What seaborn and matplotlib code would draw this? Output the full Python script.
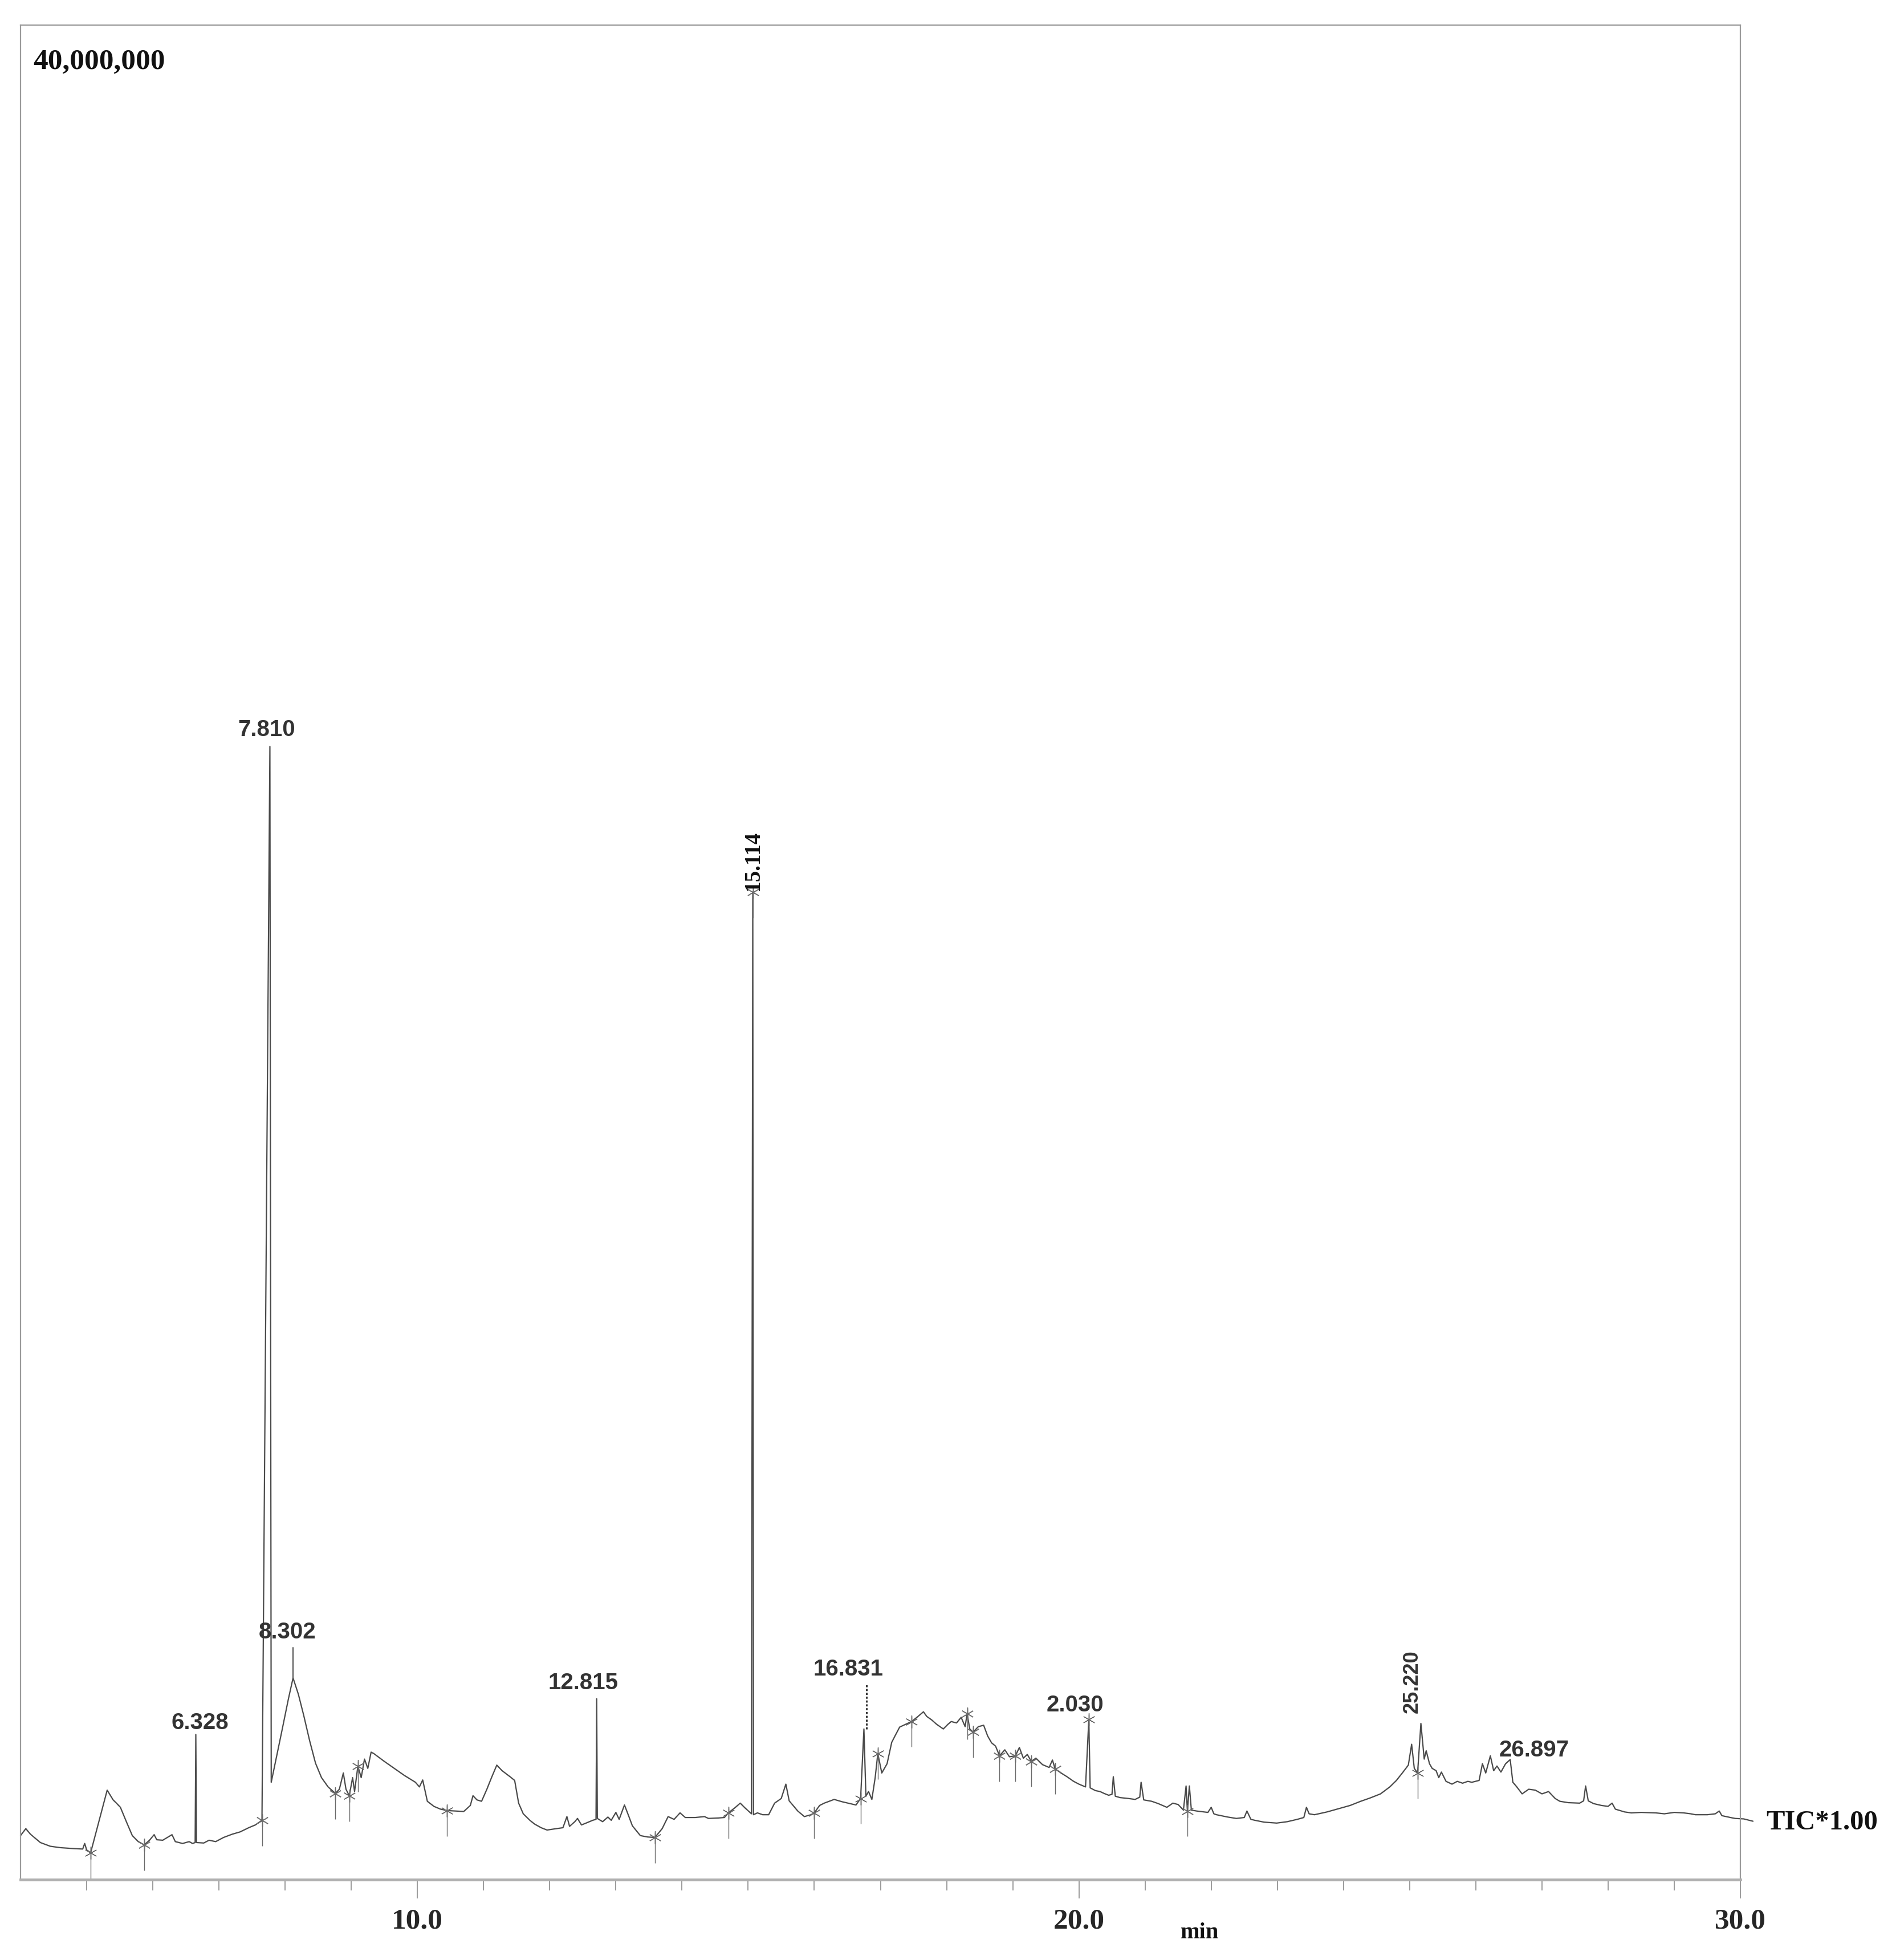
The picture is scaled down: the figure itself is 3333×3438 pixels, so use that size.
import numpy as np
import pandas as pd
import matplotlib
matplotlib.use("Agg")
import matplotlib.pyplot as plt
import seaborn as sns

# retention time (min) and TIC intensity (millions of counts)
rt_min = [4.00, 4.08, 4.15, 4.30, 4.45, 4.60, 4.80, 4.94, 4.97, 5.00, 5.06, 5.31, 5.40, 5.45, 5.51, 5.60,
          5.69, 5.78, 5.87, 5.95, 6.02, 6.06, 6.15, 6.29, 6.34, 6.45, 6.55, 6.60, 6.64, 6.65, 6.66, 6.77,
          6.85, 6.95, 7.07, 7.20, 7.32, 7.45, 7.55, 7.65, 7.77, 7.79, 7.95, 8.05, 8.12, 8.20, 8.28, 8.37,
          8.46, 8.55, 8.65, 8.76, 8.82, 8.88, 8.92, 8.97, 9.02, 9.05, 9.10, 9.15, 9.20, 9.25, 9.30, 9.34,
          9.50, 9.65, 9.80, 9.97, 10.03, 10.08, 10.15, 10.25, 10.35, 10.45, 10.58, 10.70, 10.80, 10.84,
          10.90, 10.97, 11.05, 11.12, 11.20, 11.28, 11.40, 11.47, 11.53, 11.60, 11.70, 11.77, 11.87, 11.96,
          12.10, 12.20, 12.26, 12.30, 12.38, 12.42, 12.48, 12.55, 12.65, 12.70, 12.71, 12.72, 12.80, 12.88,
          12.93, 13.00, 13.05, 13.13, 13.20, 13.25, 13.37, 13.48, 13.59, 13.70, 13.79, 13.88, 13.97, 14.05,
          14.20, 14.34, 14.40, 14.55, 14.64, 14.70, 14.80, 14.88, 14.95, 15.05, 15.07, 15.08, 15.14, 15.22,
          15.31, 15.40, 15.50, 15.57, 15.62, 15.75, 15.85, 15.95, 16.00, 16.08, 16.15, 16.30, 16.42, 16.51,
          16.63, 16.70, 16.75, 16.78, 16.82, 16.87, 16.92, 16.96, 17.02, 17.10, 17.17, 17.22, 17.29, 17.38,
          17.47, 17.55, 17.65, 17.70, 17.77, 17.85, 17.95, 18.02, 18.07, 18.15, 18.22, 18.28, 18.31, 18.35,
          18.40, 18.48, 18.56, 18.62, 18.68, 18.74, 18.80, 18.88, 18.95, 19.04, 19.10, 19.16, 19.22, 19.28,
          19.35, 19.45, 19.55, 19.60, 19.64, 19.73, 19.82, 19.92, 20.00, 20.10, 20.15, 20.17, 20.25, 20.32,
          20.38, 20.45, 20.50, 20.52, 20.55, 20.62, 20.75, 20.85, 20.92, 20.94, 20.98, 21.10, 21.20, 21.33,
          21.42, 21.50, 21.58, 21.62, 21.64, 21.67, 21.70, 21.78, 21.95, 22.00, 22.04, 22.08, 22.25, 22.38,
          22.50, 22.54, 22.60, 22.66, 22.80, 22.99, 23.15, 23.30, 23.40, 23.44, 23.48, 23.56, 23.75, 23.90,
          24.10, 24.26, 24.40, 24.56, 24.70, 24.80, 24.90, 24.98, 25.03, 25.07, 25.12, 25.17, 25.22, 25.25,
          25.30, 25.34, 25.40, 25.44, 25.48, 25.55, 25.64, 25.72, 25.80, 25.88, 25.94, 26.05, 26.10, 26.15,
          26.22, 26.27, 26.32, 26.38, 26.45, 26.52, 26.56, 26.62, 26.70, 26.80, 26.90, 27.00, 27.10, 27.20,
          27.27, 27.40, 27.57, 27.63, 27.66, 27.70, 27.78, 27.90, 28.00, 28.06, 28.11, 28.25, 28.35, 28.50,
          28.72, 28.85, 29.00, 29.14, 29.25, 29.32, 29.50, 29.62, 29.68, 29.72, 29.85, 29.92, 30.05, 30.19]
tic_millions = [0.95, 1.10, 0.98, 0.80, 0.72, 0.69, 0.67, 0.66, 0.78, 0.64, 0.58, 1.93, 1.72, 1.65, 1.56, 1.25,
                0.95, 0.82, 0.75, 0.85, 0.97, 0.86, 0.85, 0.97, 0.82, 0.78, 0.82, 0.78, 0.80, 3.13, 0.80, 0.79,
                0.85, 0.82, 0.91, 0.98, 1.03, 1.12, 1.18, 1.28, 24.44, 2.10, 3.20, 3.90, 4.35, 4.00, 3.55, 3.00,
                2.51, 2.20, 2.00, 1.86, 1.95, 2.30, 1.95, 1.81, 2.20, 1.90, 2.45, 2.20, 2.60, 2.40, 2.75, 2.72,
                2.55, 2.40, 2.25, 2.10, 2.00, 2.15, 1.69, 1.58, 1.52, 1.49, 1.48, 1.47, 1.60, 1.81,
                1.72, 1.69, 1.95, 2.20, 2.47, 2.35, 2.22, 2.14, 1.65, 1.42, 1.28, 1.20, 1.12, 1.07,
                1.10, 1.12, 1.36, 1.15, 1.25, 1.32, 1.18, 1.22, 1.28, 1.30, 3.90, 1.32, 1.25, 1.35,
                1.28, 1.45, 1.30, 1.61, 1.35, 1.16, 0.95, 0.92, 0.91, 1.10, 1.36, 1.30, 1.44, 1.34,
                1.34, 1.36, 1.32, 1.33, 1.34, 1.44, 1.55, 1.65, 1.55, 1.42, 21.30, 1.40, 1.44, 1.40,
                1.40, 1.65, 1.75, 2.06, 1.70, 1.48, 1.36, 1.40, 1.44, 1.60, 1.65, 1.73, 1.68, 1.65,
                1.61, 1.75, 3.25, 1.80, 1.90, 1.73, 2.20, 2.72, 2.30, 2.50, 2.96, 3.10, 3.29, 3.35,
                3.41, 3.50, 3.62, 3.52, 3.45, 3.35, 3.25, 3.35, 3.41, 3.38, 3.50, 3.30, 3.58, 3.25,
                3.18, 3.30, 3.33, 3.10, 2.95, 2.88, 2.67, 2.80, 2.65, 2.67, 2.85, 2.62, 2.70, 2.55,
                2.62, 2.48, 2.42, 2.58, 2.39, 2.30, 2.22, 2.12, 2.06, 2.00, 3.46, 1.98, 1.92, 1.90,
                1.86, 1.82, 1.84, 2.22, 1.80, 1.77, 1.75, 1.73, 1.78, 2.10, 1.72, 1.69, 1.64, 1.56,
                1.65, 1.62, 1.50, 2.02, 1.48, 2.02, 1.50, 1.48, 1.45, 1.56, 1.42, 1.40, 1.35, 1.32,
                1.34, 1.48, 1.30, 1.28, 1.24, 1.22, 1.25, 1.30, 1.34, 1.56, 1.42, 1.40, 1.46, 1.52,
                1.60, 1.69, 1.76, 1.85, 2.00, 2.14, 2.32, 2.47, 2.92, 2.40, 2.30, 3.37, 2.60, 2.78,
                2.50, 2.40, 2.35, 2.20, 2.32, 2.12, 2.06, 2.12, 2.08, 2.12, 2.10, 2.14, 2.50, 2.30,
                2.67, 2.35, 2.45, 2.32, 2.50, 2.59, 2.10, 2.00, 1.85, 1.95, 1.93, 1.85, 1.90, 1.75,
                1.69, 1.66, 1.65, 1.70, 2.02, 1.70, 1.64, 1.60, 1.58, 1.65, 1.52, 1.46, 1.44, 1.45,
                1.44, 1.42, 1.45, 1.44, 1.42, 1.40, 1.40, 1.42, 1.48, 1.38, 1.34, 1.32, 1.31, 1.26]

# peak annotations
peak_text = ["6.328", "7.810", "8.302", "12.815", "15.114", "16.831", "2.030", "25.220", "26.897"]
peak_text_x = [6.71, 7.72, 8.03, 12.51, 15.08, 16.51, 19.94, 25.04, 26.88]
peak_text_y = [3.38, 24.80, 5.34, 4.24, 21.98, 4.54, 3.76, 4.27, 2.79]
peak_text_rot = [0, 0, 0, 0, 90, 0, 0, 90, 0]
peak_text_serif = [False, False, False, False, True, False, False, False, False]

# peak start/end integration marks
mark_times = [5.06, 5.87, 7.65, 8.76, 8.97, 9.10, 10.45, 13.59, 14.70, 15.07, 16.00, 16.70,
              16.96, 17.47, 18.31, 18.40, 18.80, 19.04, 19.28, 19.64, 20.15, 21.64, 25.12]

trace = pd.DataFrame({"rt": rt_min, "tic": tic_millions})

sns.set_style("white")
plt.rcParams["font.family"] = ["Liberation Serif", "DejaVu Serif"]

fig = plt.figure(figsize=(33.33, 34.38), dpi=100)
ax = fig.add_axes([0.0108, 0.0410, 0.9052, 0.9462])

sns.lineplot(data=trace, x="rt", y="tic", ax=ax, color="#4a4a4a", linewidth=1.6,
             estimator=None, sort=False, clip_on=False)

# integration marks: small asterisk with a tail below the trace
mark_y = np.interp(mark_times, rt_min, tic_millions)
ax.vlines(mark_times, mark_y - 0.55, mark_y + 0.1, color="#6a6a6a", linewidth=1.0)
ax.plot(mark_times, mark_y, linestyle="none", marker=(6, 2, 0), markersize=16,
        markeredgewidth=1.0, color="#6a6a6a")

# label connectors
ax.plot([8.12, 8.12], [4.35, 5.0], color="#4a4a4a", linewidth=1.4)
ax.plot([16.79, 16.79], [3.25, 4.2], color="#333333", linewidth=2.2, linestyle=(0, (1.2, 1.0)))

for txt, x, y, rot, serif in zip(peak_text, peak_text_x, peak_text_y, peak_text_rot, peak_text_serif):
    if serif:
        ax.text(x, y, txt, rotation=rot, ha="center", va="center", fontsize=28,
                fontweight="bold", family=["Liberation Serif"], color="#111111")
    else:
        ax.text(x, y, txt, rotation=rot, ha="center", va="center", fontsize=29 if rot == 0 else 26,
                fontweight="bold", family=["Liberation Sans"], color="#333333")

ax.set_xlim(4, 30)
ax.set_ylim(0, 40)
ax.set_xlabel("")
ax.set_ylabel("")
ax.set_yticks([])
ax.set_xticks([10, 20, 30])
ax.set_xticklabels(["10.0", "20.0", "30.0"], fontsize=37, fontweight="bold")
ax.set_xticks([t for t in range(5, 30) if t % 10 != 0], minor=True)
ax.tick_params(axis="x", which="major", direction="out", length=24, width=1.2, color="#8a8a8a", pad=12, bottom=True)
ax.tick_params(axis="x", which="minor", direction="out", length=14, width=1.2, color="#8a8a8a", bottom=True)

for side in ["left", "top", "right"]:
    ax.spines[side].set_color("#9a9a9a")
    ax.spines[side].set_linewidth(1.6)
ax.spines["bottom"].set_color("#b0b0b0")
ax.spines["bottom"].set_linewidth(3.5)

ax.text(0.0073, 0.980, "40,000,000", transform=ax.transAxes, ha="left", va="center",
        fontsize=37, fontweight="bold", color="#111111")
ax.text(30.39, 1.23, "TIC*1.00", ha="left", va="center", fontsize=35, fontweight="bold",
        color="#111111", clip_on=False)
ax.text(21.83, -0.0286, "min", transform=ax.get_xaxis_transform(), ha="center", va="center",
        fontsize=29, fontweight="bold", color="#111111")

fig.savefig("out.png", dpi=100, facecolor="white")
